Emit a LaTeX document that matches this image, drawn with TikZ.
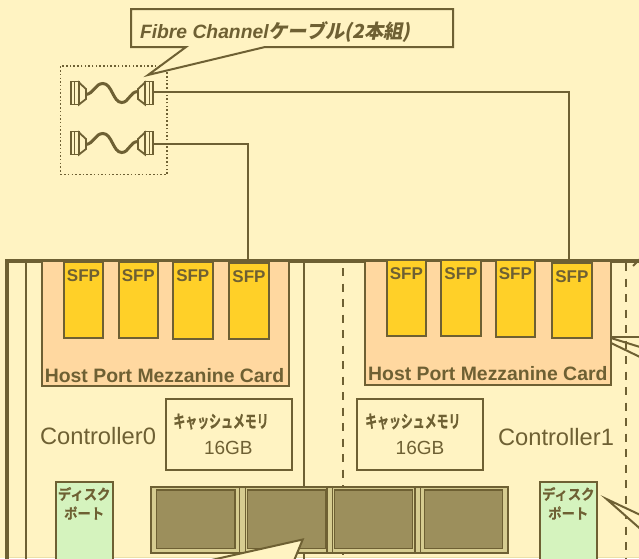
\documentclass[tikz,border=0pt]{standalone}
\usepackage{fontspec}
\setmainfont{Liberation Sans}
\newfontfamily\jpfont[FakeStretch=0.68,FakeBold=0.6]{Noto Sans CJK JP Bold}
\newfontfamily\jpport[FakeStretch=0.92,FakeBold=0.6]{Noto Sans CJK JP Bold}
\newfontfamily\jpslant[FakeSlant=0.2]{Noto Sans CJK JP Bold}
\definecolor{paper}{HTML}{FFF3C2}
\definecolor{ink}{HTML}{6E6033}
\definecolor{cardfill}{HTML}{FFD8A0}
\definecolor{sfpfill}{HTML}{FFD028}
\definecolor{portfill}{HTML}{D5F3BE}
\definecolor{memfill}{HTML}{9C8F5C}
\definecolor{memedge}{HTML}{D6CC90}
\tikzset{
  cable/.pic={
    \draw[ink,line width=1.8pt,fill=paper] (8,1) -- (15,7.5) -- (15,17.5) -- (8,23) -- cycle;
    \draw[ink,line width=1.8pt,fill=paper] (74,1) -- (67,7.5) -- (67,17.5) -- (74,23) -- cycle;
    \draw[ink,line width=1.8pt,fill=paper] (0,0) rectangle (8,23) (3.5,0) -- (3.5,23);
    \draw[ink,line width=1.8pt,fill=paper] (74,0) rectangle (82,23) (78.5,0) -- (78.5,23);
    \draw[ink,line width=3pt] (15,13) .. controls (23,12) and (24,2) .. (32,2)
      .. controls (41,2) and (42,21) .. (50.7,21) .. controls (58,21) and (59,10) .. (67,10);
  }
}
\begin{document}
\begin{tikzpicture}[x=1pt,y=-1pt,
    every node/.style={outer sep=0pt,text=ink},
    box/.style={draw=ink,line width=2pt,anchor=north west,inner sep=0pt},
    sfpbox/.style={draw=ink,line width=2pt,fill=sfpfill,anchor=north,minimum width=39.5pt,inner ysep=2pt,inner xsep=0pt,
      text height=17.5pt,text depth=#1,font=\fontsize{17}{17}\selectfont\bfseries},
    cardtext/.style={anchor=base,font=\fontsize{19.4}{20}\selectfont\bfseries},
    ctrltext/.style={anchor=base,font=\fontsize{23.7}{25}\selectfont},
    sizetext/.style={anchor=base,font=\fontsize{19}{20}\selectfont},
    cachetext/.style={anchor=center,font=\fontsize{17.5}{20}\jpfont},
    porttext/.style={anchor=center,font=\fontsize{14.5}{18}\jpport},
    membox/.style={box,line width=1.5pt,fill=memfill,minimum height=58.3pt},
    wire/.style={draw=ink,line width=2pt},
    memline/.style={draw=ink,line width=1.5pt},
    dashline/.style={draw=ink,line width=2pt,dash pattern=on 8pt off 7.5pt}]
  \useasboundingbox (0,0) rectangle (639,558);
  \clip (0,0) rectangle (639,558);
  \fill[paper] (0,0) rectangle (639,558);
  \fill[memedge!50!paper] (8,556.5) rectangle (639,558);
  % cables
  \node[draw=ink,line width=1.5pt,dash pattern=on 1.5pt off 2.2pt,anchor=north west,minimum width=106.5pt,minimum height=108.5pt] (cableGroup) at (60.5,66) {};
  \pic at (71,81.5) {cable};
  \pic at (71,131.5) {cable};
  \coordinate (plugA) at (153,91.7);
  \coordinate (plugB) at (153,144);
  % callout
  \draw[ink,line width=2pt,fill=paper] (131,9) -- (453,9) -- (453,47) -- (265,47) -- (148,75) -- (186,47) -- (131,47) -- cycle;
  \node[anchor=base west,inner sep=0pt,font=\fontsize{19.3}{20}\selectfont\bfseries\itshape] (cableLabel) at (140,38) {Fibre Channel{\jpslant ケーブル(2本組)}};
  % chassis
  \draw[ink,line width=3.8pt] (6.6,570) -- (6.6,261.3) -- (650,261.3);
  \draw[wire] (26,261) -- (26,570);
  \draw[wire] (304,261) -- (304,570);
  \draw[dashline] (343,268) -- (343,570);
  \draw[dashline] (626,263) -- (626,570);
  \draw[wire] (633,266) -- (640,259);
  % cards
  \node[box,fill=cardfill,minimum width=247pt,minimum height=125pt] (cardLeft) at (41.5,261) {};
  \node[box,fill=cardfill,minimum width=246.5pt,minimum height=123.5pt] (cardRight) at (364.5,261) {};
  \node[cardtext] (cardLeftLabel) at (164.5,382.3) {Host Port Mezzanine Card};
  \node[cardtext] (cardRightLabel) at (487.8,380.7) {Host Port Mezzanine Card};
  \node[sfpbox=54pt] (sfpA) at (83.5,262) {SFP};
  \node[sfpbox=54pt] (sfpB) at (138.3,262) {SFP};
  \node[sfpbox=55pt] (sfpC) at (192.8,262) {SFP};
  \node[sfpbox=54.5pt] (sfpD) at (249,263) {SFP};
  \node[sfpbox=54.5pt] (sfpE) at (406.3,260) {SFP};
  \node[sfpbox=54.5pt] (sfpF) at (461,260) {SFP};
  \node[sfpbox=55.5pt] (sfpG) at (515.3,260) {SFP};
  \node[sfpbox=54pt] (sfpH) at (571.8,262.5) {SFP};
  \draw[wire] (plugA) -| ([xshift=-2.5pt]sfpH.north);
  \draw[wire] (plugB) -| ([xshift=-1.5pt]sfpD.north);
  \draw[wire] (cardRight.east |- 0,337) -- (640,337);
  \draw[wire] (cardRight.east |- 0,338) -- (640,347);
  \draw[wire] (cardRight.east |- 0,343) -- (640,357);
  % controller text
  \node[ctrltext] (ctrlLeft) at (98,444) {Controller0};
  \node[ctrltext] (ctrlRight) at (556,445.6) {Controller1};
  % cache
  \node[box,minimum width=126.3pt,minimum height=70.7pt] (cacheLeft) at (165.7,399.3) {};
  \node[box,minimum width=126.6pt,minimum height=70.7pt] (cacheRight) at (356.7,399.3) {};
  \node[cachetext] (cacheLeftName) at (221,421.5) {キャッシュメモリ};
  \node[cachetext] (cacheRightName) at (412.8,421.5) {キャッシュメモリ};
  \node[sizetext] (cacheLeftSize) at (228.3,454) {16GB};
  \node[sizetext] (cacheRightSize) at (420,454) {16GB};
  % disk ports
  \node[box,fill=portfill,minimum width=57pt,minimum height=100pt] (portLeft) at (55.7,482.3) {};
  \node[box,fill=portfill,minimum width=56.7pt,minimum height=100pt] (portRight) at (540,482.3) {};
  \node[porttext] (portLeftTop) at (84.2,494) {ディスク};
  \node[porttext] (portLeftBottom) at (84.2,513) {ポート};
  \node[porttext] (portRightTop) at (568.3,494) {ディスク};
  \node[porttext] (portRightBottom) at (568.3,513) {ポート};
  % memory
  \node[box,fill=memedge,minimum width=356.7pt,minimum height=66.6pt] (memBlock) at (151,486.7) {};
  \node[membox,minimum width=78.3pt] (memA) at (156.7,490) {};
  \node[membox,minimum width=78pt] (memB) at (247.3,490) {};
  \node[membox,minimum width=78pt] (memC) at (334.7,490) {};
  \node[membox,minimum width=78.4pt] (memD) at (424.3,490) {};
  \draw[memline] (239.3,486.7) -- (239.3,553.3) (245.3,486.7) -- (245.3,553.3);
  \draw[memline] (326.9,486.7) -- (326.9,553.3) (332.5,486.7) -- (332.5,553.3);
  \draw[memline] (415,486.7) -- (415,553.3) (420.7,486.7) -- (420.7,553.3);
  % callouts at the bottom
  \draw[wire,fill=paper] (302.7,539.5) -- (176,568) -- (291,568) -- cycle;
  \draw[wire,fill=paper] (606.5,499) -- (650,519.5) -- (650,537.4) -- cycle;
\end{tikzpicture}
\end{document}
